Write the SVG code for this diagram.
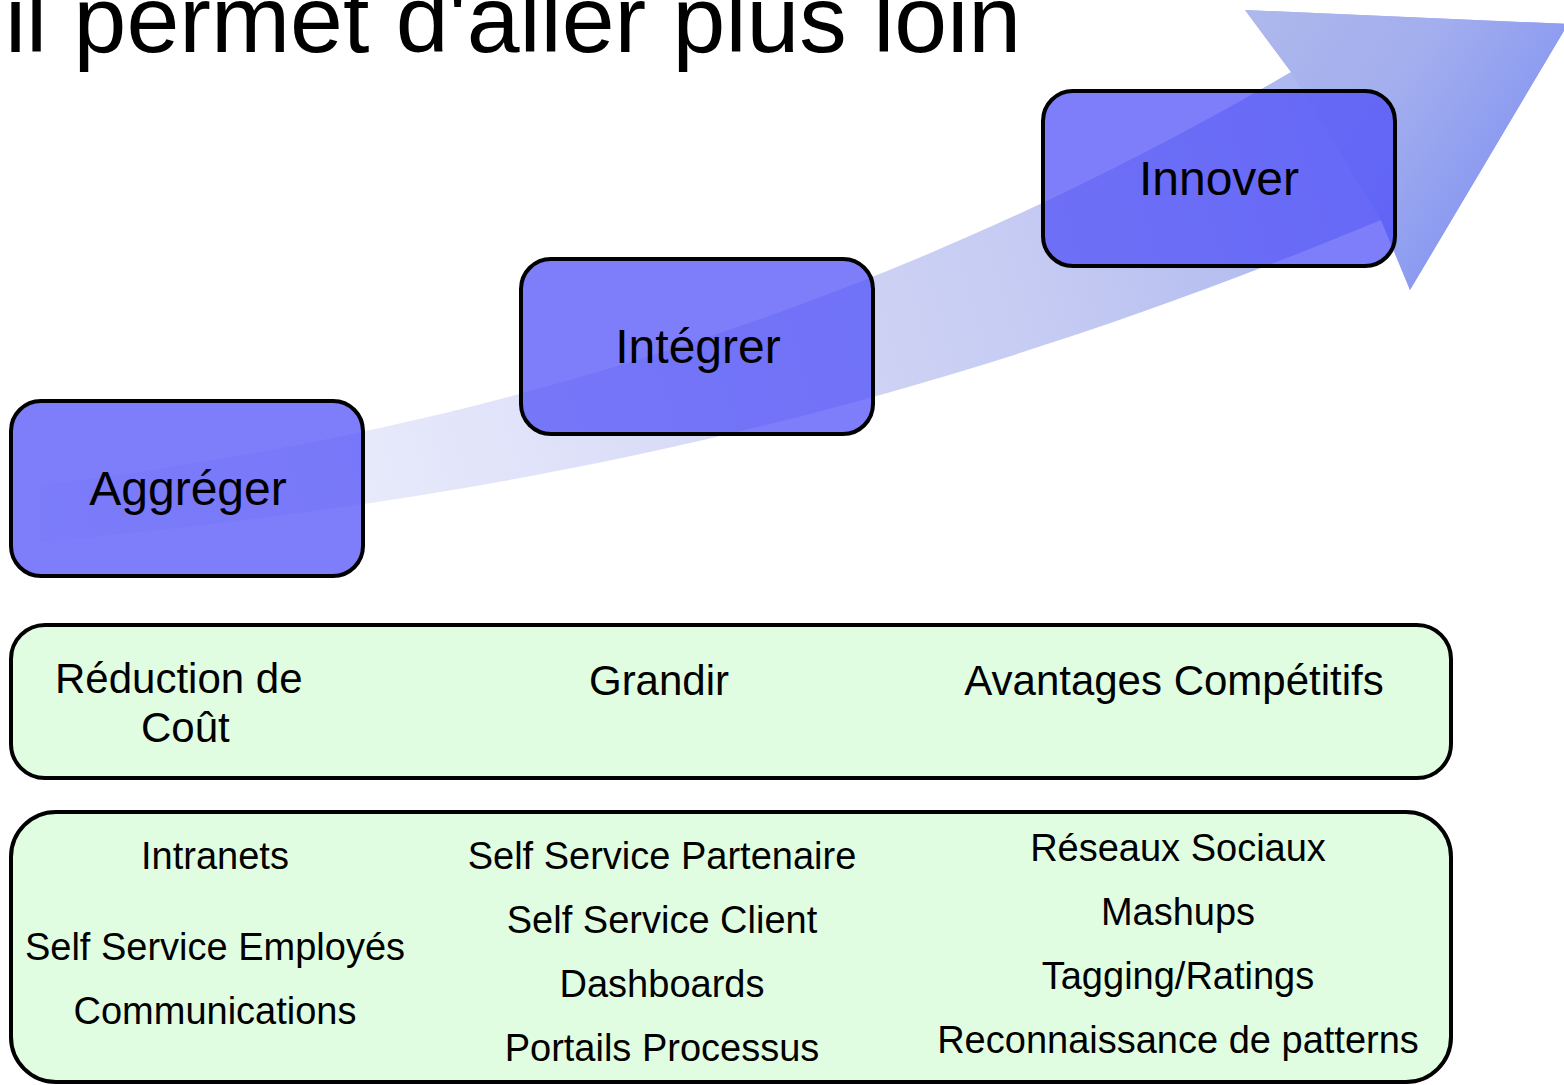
<svg xmlns="http://www.w3.org/2000/svg" width="1564" height="1085" viewBox="0 0 1564 1085">
<defs>
<linearGradient id="arrowGrad" gradientUnits="userSpaceOnUse" x1="40" y1="500" x2="1564" y2="60">
<stop offset="0" stop-color="#f6f7fe"/>
<stop offset="0.3" stop-color="#e0e3f9"/>
<stop offset="0.65" stop-color="#c4caf2"/>
<stop offset="1" stop-color="#9aa7ee"/>
</linearGradient>
<linearGradient id="headGrad" gradientUnits="userSpaceOnUse" x1="1250" y1="20" x2="1520" y2="200">
<stop offset="0" stop-color="#aeb8ec"/>
<stop offset="0.5" stop-color="#a2aeee"/>
<stop offset="1" stop-color="#8494f2"/>
</linearGradient>
<style>
.blue{fill:#4c4cf8;fill-opacity:0.72;stroke:#000;stroke-width:4}
.green{fill:#e1fde1;stroke:#000;stroke-width:4}
.t{font-family:"Liberation Sans",Arial,sans-serif;fill:#000}
.big{font-size:48px;text-anchor:middle}
.mid{font-size:42px}
.sm{font-size:38px;text-anchor:middle}
</style>
</defs>
<rect width="1564" height="1085" fill="#fff"/>
<text class="t" x="5" y="52" font-size="95">il permet d'aller plus loin</text>
<g id="connectors">
<path d="M40,485 C420,440 850,330 1291,72 L1245,10 L1568,24 L1410,290 L1381,220 C900,420 500,500 40,542 Z" fill="url(#arrowGrad)"/>
<path d="M1291,72 L1245,10 L1568,24 L1410,290 L1381,220 Z" fill="url(#headGrad)"/>
</g>
<g id="aggreger">
<rect class="blue" x="11" y="401" width="352" height="175" rx="30"/>
<text class="t big" x="188" y="505">Aggréger</text>
</g>
<g id="integrer">
<rect class="blue" x="521" y="259" width="352" height="175" rx="30"/>
<text class="t big" x="698" y="363">Intégrer</text>
</g>
<g id="innover">
<rect class="blue" x="1043" y="91" width="352" height="175" rx="30"/>
<text class="t big" x="1219" y="195">Innover</text>
</g>
<g id="benefits">
<rect class="green" x="11" y="625" width="1440" height="153" rx="34"/>
<text class="t mid" x="55" y="693">Réduction de</text>
<text class="t mid" x="141" y="742">Coût</text>
<text class="t mid" x="659" y="695" text-anchor="middle">Grandir</text>
<text class="t mid" x="1174" y="695" text-anchor="middle">Avantages Compétitifs</text>
</g>
<g id="examples">
<rect class="green" x="11" y="812" width="1440" height="270" rx="45"/>
<text class="t sm" x="215" y="869">Intranets</text>
<text class="t sm" x="215" y="960">Self Service Employés</text>
<text class="t sm" x="215" y="1024">Communications</text>
<text class="t sm" x="662" y="869">Self Service Partenaire</text>
<text class="t sm" x="662" y="933">Self Service Client</text>
<text class="t sm" x="662" y="997">Dashboards</text>
<text class="t sm" x="662" y="1061">Portails Processus</text>
<text class="t sm" x="1178" y="861">Réseaux Sociaux</text>
<text class="t sm" x="1178" y="925">Mashups</text>
<text class="t sm" x="1178" y="989">Tagging/Ratings</text>
<text class="t sm" x="1178" y="1053">Reconnaissance de patterns</text>
</g>
</svg>
